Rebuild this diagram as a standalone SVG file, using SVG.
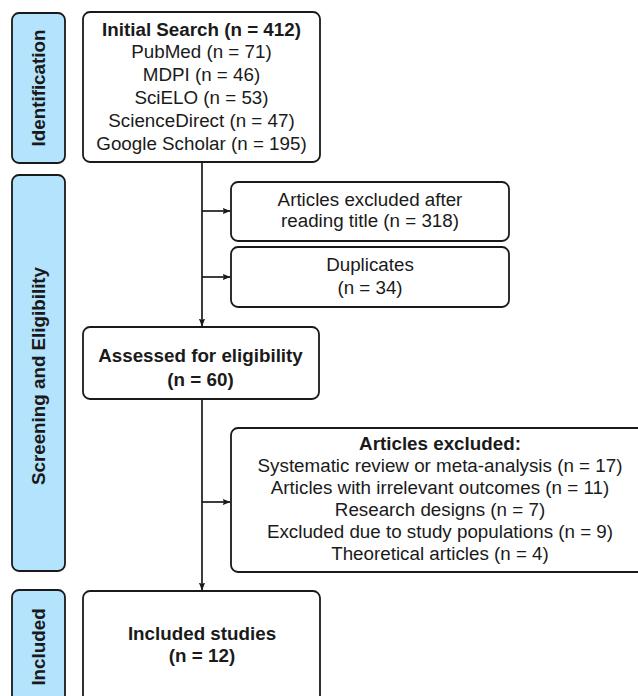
<svg xmlns="http://www.w3.org/2000/svg" width="638" height="696" viewBox="0 0 638 696">
<style>
.bg{fill:#ffffff}
.side{fill:#b3e3fd;stroke:#1a1a1a;stroke-width:1.8}
.box{fill:#ffffff;stroke:#1a1a1a;stroke-width:1.8}
text{font-family:"Liberation Sans",Arial,sans-serif;font-size:18.8px;fill:#1a1a1a;text-anchor:middle}
.b{font-weight:bold}
.conn{stroke:#1a1a1a;stroke-width:1.7;fill:none}
</style>
<defs>
<marker id="ah" viewBox="0 0 8 8" refX="7.5" refY="4" markerWidth="8" markerHeight="8" markerUnits="userSpaceOnUse" orient="auto">
<path d="M0,0.8 L8,4 L0,7.2 L1.5,4 Z" fill="#1a1a1a"/>
</marker>
</defs>
<rect class="bg" x="0" y="0" width="638" height="696"/>

<g id="phase-identification">
<rect class="side" x="12" y="13" width="53" height="150" rx="7"/>
<text class="b" transform="translate(45 88) rotate(-90)">Identification</text>
</g>
<g id="phase-screening">
<rect class="side" x="12" y="175" width="53" height="396" rx="7"/>
<text class="b" transform="translate(45 376) rotate(-90)">Screening and Eligibility</text>
</g>
<g id="phase-included">
<rect class="side" x="12" y="590" width="53" height="130" rx="7"/>
<text class="b" transform="translate(45 647) rotate(-90)">Included</text>
</g>

<g id="connectors">
<line class="conn" x1="202" y1="162" x2="202" y2="326" marker-end="url(#ah)"/>
<line class="conn" x1="202" y1="211" x2="230" y2="211" marker-end="url(#ah)"/>
<line class="conn" x1="202" y1="277" x2="230" y2="277" marker-end="url(#ah)"/>
<line class="conn" x1="202" y1="399" x2="202" y2="590" marker-end="url(#ah)"/>
<line class="conn" x1="202" y1="502" x2="230" y2="502" marker-end="url(#ah)"/>
</g>

<g id="initial-search">
<rect class="box" x="83" y="12" width="237" height="150" rx="7"/>
<text class="b" x="201.5" y="35.5">Initial Search (n = 412)</text>
<text x="201.5" y="58.3">PubMed (n = 71)</text>
<text x="201.5" y="81.1">MDPI (n = 46)</text>
<text x="201.5" y="103.9">SciELO (n = 53)</text>
<text x="201.5" y="126.7">ScienceDirect (n = 47)</text>
<text x="201.5" y="149.5">Google Scholar (n = 195)</text>
</g>

<g id="excluded-title">
<rect class="box" x="231" y="182" width="278" height="59" rx="7"/>
<text x="370" y="205.5">Articles excluded after</text>
<text x="370" y="227">reading title (n = 318)</text>
</g>

<g id="duplicates">
<rect class="box" x="231" y="247" width="278" height="60" rx="7"/>
<text x="370" y="271">Duplicates</text>
<text x="370" y="294">(n = 34)</text>
</g>

<g id="assessed">
<rect class="box" x="83" y="327" width="236" height="72" rx="7"/>
<text class="b" x="200.5" y="362">Assessed for eligibility</text>
<text class="b" x="200.5" y="385.5">(n = 60)</text>
</g>

<g id="articles-excluded">
<rect class="box" x="231" y="428" width="420" height="144" rx="7"/>
<text class="b" x="440" y="449.5">Articles excluded:</text>
<text x="440" y="471.5">Systematic review or meta-analysis (n = 17)</text>
<text x="440" y="493.5">Articles with irrelevant outcomes (n = 11)</text>
<text x="440" y="515.5">Research designs (n = 7)</text>
<text x="440" y="537.5">Excluded due to study populations (n = 9)</text>
<text x="440" y="559.5">Theoretical articles (n = 4)</text>
</g>

<g id="included-studies">
<rect class="box" x="83" y="591" width="237" height="130" rx="7"/>
<text class="b" x="202" y="639.5">Included studies</text>
<text class="b" x="202" y="661.5">(n = 12)</text>
</g>
</svg>
